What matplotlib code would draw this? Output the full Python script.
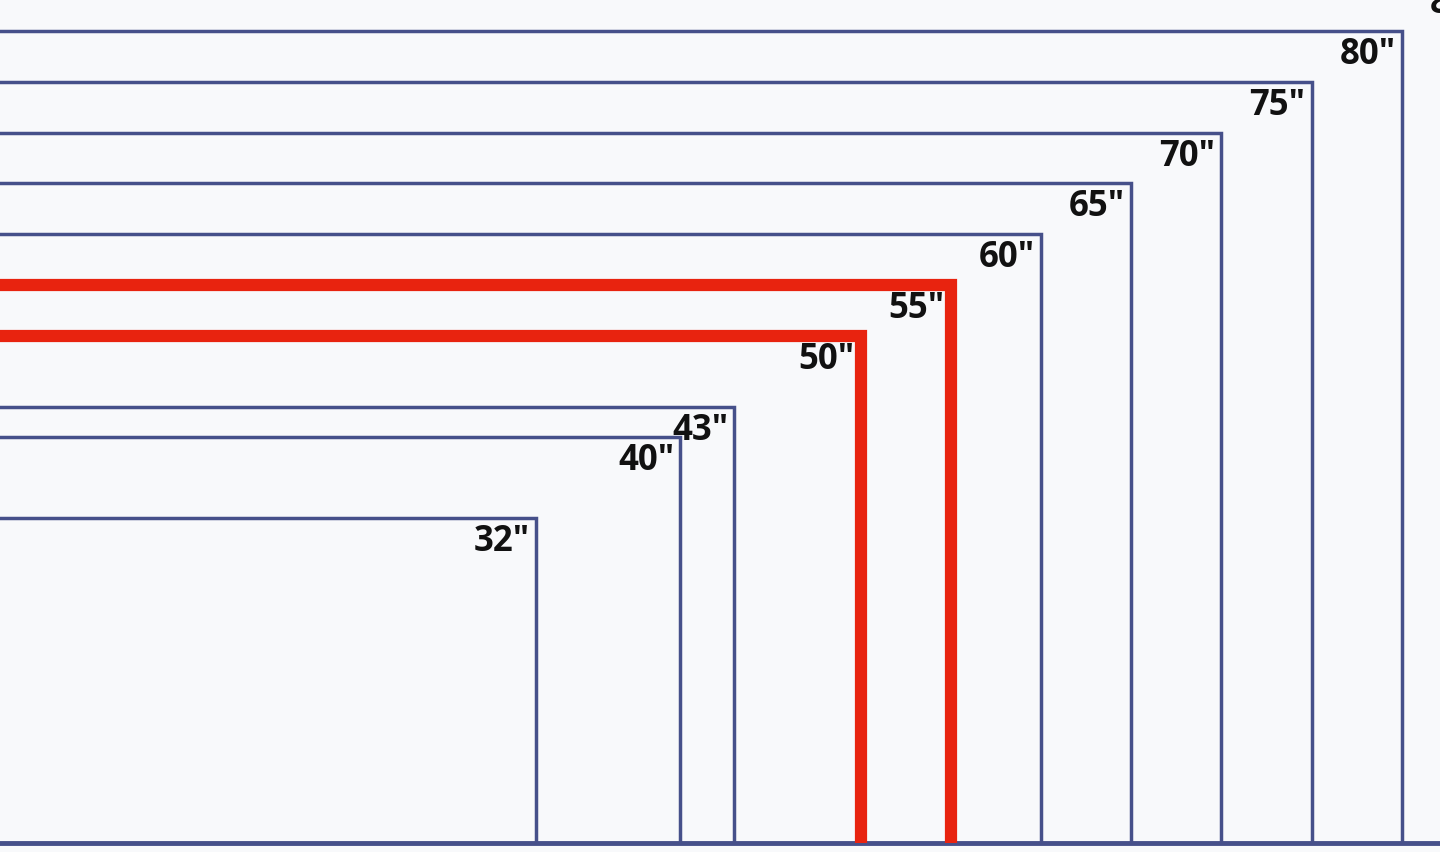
import numpy as np
import matplotlib.pyplot as plt

# TV diagonal sizes (inches), 16:9 screens
sizes = [32, 40, 43, 50, 55, 60, 65, 70, 75, 80, 85]
labels = ['32"', '40"', '43"', '50"', '55"', '60"', '65"', '70"', '75"', '80"', '85"']
highlight = [50, 55]

diag = np.hypot(16, 9)
widths = [d * 16 / diag for d in sizes]
heights = [d * 9 / diag for d in sizes]

fig = plt.figure(figsize=(14.4, 8.52), dpi=100)
fig.patch.set_facecolor('#f8f9fb')
ax = fig.add_axes([0, 0, 1, 1])
ax.set_facecolor('#f8f9fb')

blue = '#46508a'
red = '#e8230f'

for d, w, h, lab in zip(sizes, widths, heights, labels):
    if d in highlight:
        ax.plot([-5, w, w], [h, h, 0], color=red, lw=8.8,
                solid_joinstyle='miter', solid_capstyle='butt', zorder=3)
    else:
        ax.plot([-5, w, w], [h, h, 0], color=blue, lw=2.5,
                solid_joinstyle='miter', solid_capstyle='butt', zorder=2)
    ax.text(w - 0.3, h - 0.3, lab, ha='right', va='top',
            fontsize=25, fontweight='bold', family='Open Sans',
            color='#111111', zorder=4)

ax.axhline(0, color=blue, lw=3.5, zorder=1)

ax.set_xlim(2.0, 71.57)
ax.set_ylim(-0.435, 40.72)
ax.axis('off')

fig.savefig('out.png', dpi=100, facecolor=fig.get_facecolor())
